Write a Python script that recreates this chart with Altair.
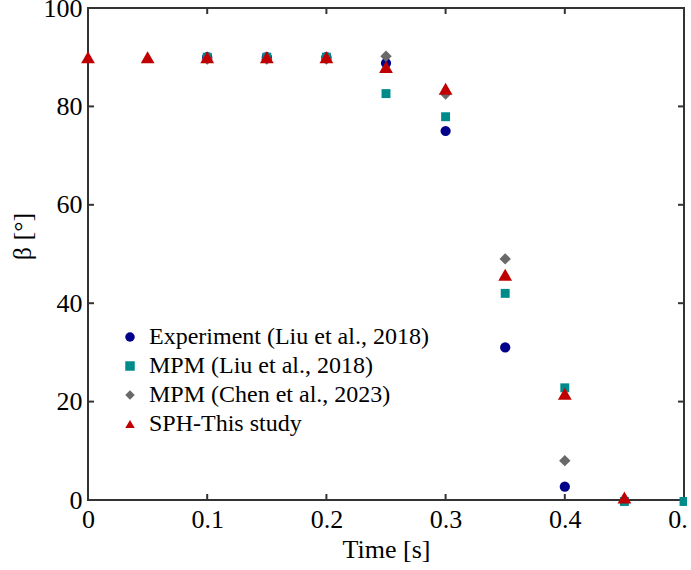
import altair as alt
import pandas as pd

series_names = ["Experiment (Liu et al., 2018)", "MPM (Liu et al., 2018)",
                "MPM (Chen et al., 2023)", "SPH-This study"]
series_colors = ["#00008B", "#008B8B", "#696969", "#C00000"]
series_shapes = ["circle", "square", "diamond", "triangle-up"]
series_sizes = [105, 80, 130, 190]

exp_t = [0.1, 0.15, 0.2, 0.25, 0.3, 0.35, 0.4]
exp_v = [90, 90, 90, 88.8, 75, 31, 2.7]
mpm_liu_t = [0.1, 0.15, 0.2, 0.25, 0.3, 0.35, 0.4, 0.45, 0.5]
mpm_liu_v = [90, 90, 90, 82.6, 77.9, 42, 22.8, -0.3, -0.3]
mpm_chen_t = [0.1, 0.15, 0.2, 0.25, 0.3, 0.35, 0.4]
mpm_chen_v = [89.6, 89.6, 89.6, 90.2, 82.5, 49, 8]
sph_t = [0, 0.05, 0.1, 0.15, 0.2, 0.25, 0.3, 0.35, 0.4, 0.45]
sph_v = [90, 90, 90, 90, 90, 88, 83.6, 45.8, 21.6, 0.5]

x_ticks = [0.1, 0.2, 0.3, 0.4]
y_ticks = [20, 40, 60, 80]
x_labels = [0, 0.1, 0.2, 0.3, 0.4, 0.5]
y_labels = [0, 20, 40, 60, 80, 100]

rows = []
for i, (name, ts, vs) in enumerate(zip(series_names, [exp_t, mpm_liu_t, mpm_chen_t, sph_t],
                                       [exp_v, mpm_liu_v, mpm_chen_v, sph_v])):
    for t, v in zip(ts, vs):
        rows.append({"series": name, "t": t, "beta": v, "idx": i, "sz": series_sizes[i]})
df = pd.DataFrame(rows)

W, H = 596, 492
FONT = "Liberation Serif"
xscale = alt.Scale(domain=[0, 0.5], nice=False, zero=False)
yscale = alt.Scale(domain=[0, 100], nice=False, zero=False)

points = alt.Chart(df).mark_point(filled=True, opacity=1, clip=False).encode(
    x=alt.X("t:Q", scale=xscale, title="Time [s]",
            axis=alt.Axis(values=x_labels, ticks=False, domain=False, grid=False,
                          labelExpr="datum.value == 0 ? '0' : format(datum.value, '.1f')",
                          labelFont=FONT, labelFontSize=26, labelColor="black",
                          labelPadding=6, labelFlush=False,
                          titleFont=FONT, titleFontSize=26, titleFontWeight="normal",
                          titleColor="black", titlePadding=4)),
    y=alt.Y("beta:Q", scale=yscale, title="β [°]",
            axis=alt.Axis(values=y_labels, ticks=False, domain=False, grid=False,
                          labelFont=FONT, labelFontSize=26, labelColor="black",
                          labelPadding=6, labelFlush=False,
                          titleFont=FONT, titleFontSize=26, titleFontWeight="normal",
                          titleColor="black", titlePadding=8, titleY=228)),
    color=alt.Color("series:N", scale=alt.Scale(domain=series_names, range=series_colors),
                    legend=alt.Legend(title=None, orient="none", legendX=30, legendY=317,
                                      labelFont=FONT, labelFontSize=24, labelColor="black",
                                      symbolSize=90, rowPadding=5, padding=0, labelOffset=7,
                                      labelLimit=500, symbolOpacity=1)),
    shape=alt.Shape("series:N", scale=alt.Scale(domain=series_names, range=series_shapes)),
    size=alt.Size("sz:Q", scale=None),
    order=alt.Order("idx:Q"),
)

xt = pd.DataFrame({"t": x_ticks})
yt = pd.DataFrame({"beta": y_ticks})
tick_style = dict(color="#333333", strokeWidth=2)
bottom = alt.Chart(xt).mark_rule(**tick_style).encode(
    x=alt.X("t:Q", scale=xscale), y=alt.value(H), y2=alt.value(H - 6))
top = alt.Chart(xt).mark_rule(**tick_style).encode(
    x=alt.X("t:Q", scale=xscale), y=alt.value(0), y2=alt.value(6))
left = alt.Chart(yt).mark_rule(**tick_style).encode(
    y=alt.Y("beta:Q", scale=yscale), x=alt.value(0), x2=alt.value(6))
right = alt.Chart(yt).mark_rule(**tick_style).encode(
    y=alt.Y("beta:Q", scale=yscale), x=alt.value(W - 6), x2=alt.value(W))

chart = alt.layer(bottom, top, left, right, points).properties(
    width=W, height=H,
    autosize=alt.AutoSizeParams(type="none"),
    padding={"left": 88, "top": 8, "right": 3, "bottom": 62},
).configure(background="white").configure_view(stroke="#333333", strokeWidth=2)

chart.save("out.html", embed_options={"renderer": "svg", "actions": False})
